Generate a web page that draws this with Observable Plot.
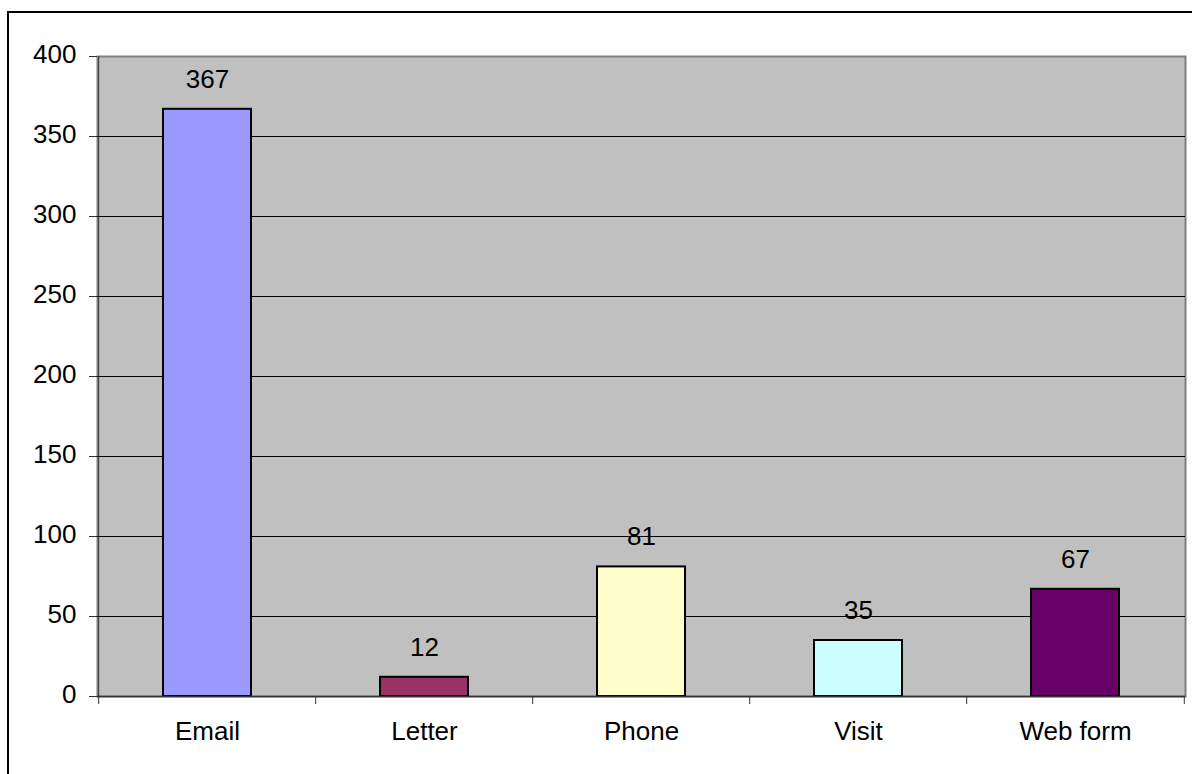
<!DOCTYPE html>
<html>
<head>
<meta charset="utf-8">
<script src="https://cdn.jsdelivr.net/npm/d3@7"></script>
<script src="https://cdn.jsdelivr.net/npm/@observablehq/plot@0.6"></script>
<style>
  html, body { margin: 0; padding: 0; background: #fff; overflow: hidden; }
  #wrap { position: relative; width: 1192px; height: 774px; overflow: hidden; }
  #border { position: absolute; left: 7px; top: 11px; width: 1300px; height: 900px;
            border: 2px solid #000; pointer-events: none; }
</style>
</head>
<body>
<div id="wrap"><div id="border"></div></div>
<script>
// Contact channels and counts
const channels = ["Email", "Letter", "Phone", "Visit", "Web form"];
const counts = [367, 12, 81, 35, 67];
const barColors = ["#9999ff", "#993366", "#ffffcc", "#ccffff", "#660066"];
const yTicks = [0, 50, 100, 150, 200, 250, 300, 350, 400];
const gridLines = [50, 100, 150, 200, 250, 300, 350];

const data = channels.map((c, i) => ({channel: c, count: counts[i], color: barColors[i]}));

const W = 1192, H = 774;
const mL = 97, mR = 7, mT = 56, mB = 78;
const step = (W - mL - mR) / channels.length;
const font = "'Liberation Sans', Arial, sans-serif";
const fs = 26;

const chart = Plot.plot({
  width: W,
  height: H,
  marginLeft: mL,
  marginRight: mR,
  marginTop: mT,
  marginBottom: mB,
  style: {fontFamily: font, fontSize: fs + "px", color: "#000", background: "transparent"},
  x: {domain: channels, paddingInner: 0.595, paddingOuter: 0.2975, label: null},
  y: {domain: [0, 400], label: null},
  marks: [
    Plot.frame({fill: "#c0c0c0", stroke: "#808080", strokeWidth: 2}),
    Plot.ruleY(gridLines, {stroke: "#000", strokeWidth: 1}),
    // category boundary ticks below the axis (left one runs up as the axis line)
    Plot.ruleX(channels.slice(1), {x: d => d, dx: -step / 2, y1: 0, y2: -5, stroke: "#333", strokeWidth: 1}),
    Plot.ruleX([channels[0]], {x: d => d, dx: -step / 2, y1: -5, y2: 400, stroke: "#333", strokeWidth: 1}),
    Plot.ruleX([channels[channels.length - 1]], {x: d => d, dx: step / 2, y1: 0, y2: -5, stroke: "#333", strokeWidth: 1}),
    Plot.barY(data, {x: "channel", y: "count", fill: "color", stroke: "#000", strokeWidth: 2}),
    Plot.ruleY([0], {stroke: "#333", strokeWidth: 1.5}),
    Plot.text(data, {x: "channel", y: "count", text: d => String(d.count), dy: -30,
                     fontSize: fs, fill: "#000", lineAnchor: "middle"}),
    // y tick marks and their labels (labels sit slightly above the tick)
    Plot.axisY({ticks: yTicks, tickSize: 8, text: null, stroke: "#333", label: null}),
    Plot.axisY({ticks: yTicks, tickSize: 0, tickPadding: 21, fontSize: fs, dy: -2, label: null}),
    Plot.axisX({tickSize: 0, tickPadding: 25, fontSize: fs, label: null})
  ]
});

document.getElementById("wrap").prepend(chart);
</script>
</body>
</html>
